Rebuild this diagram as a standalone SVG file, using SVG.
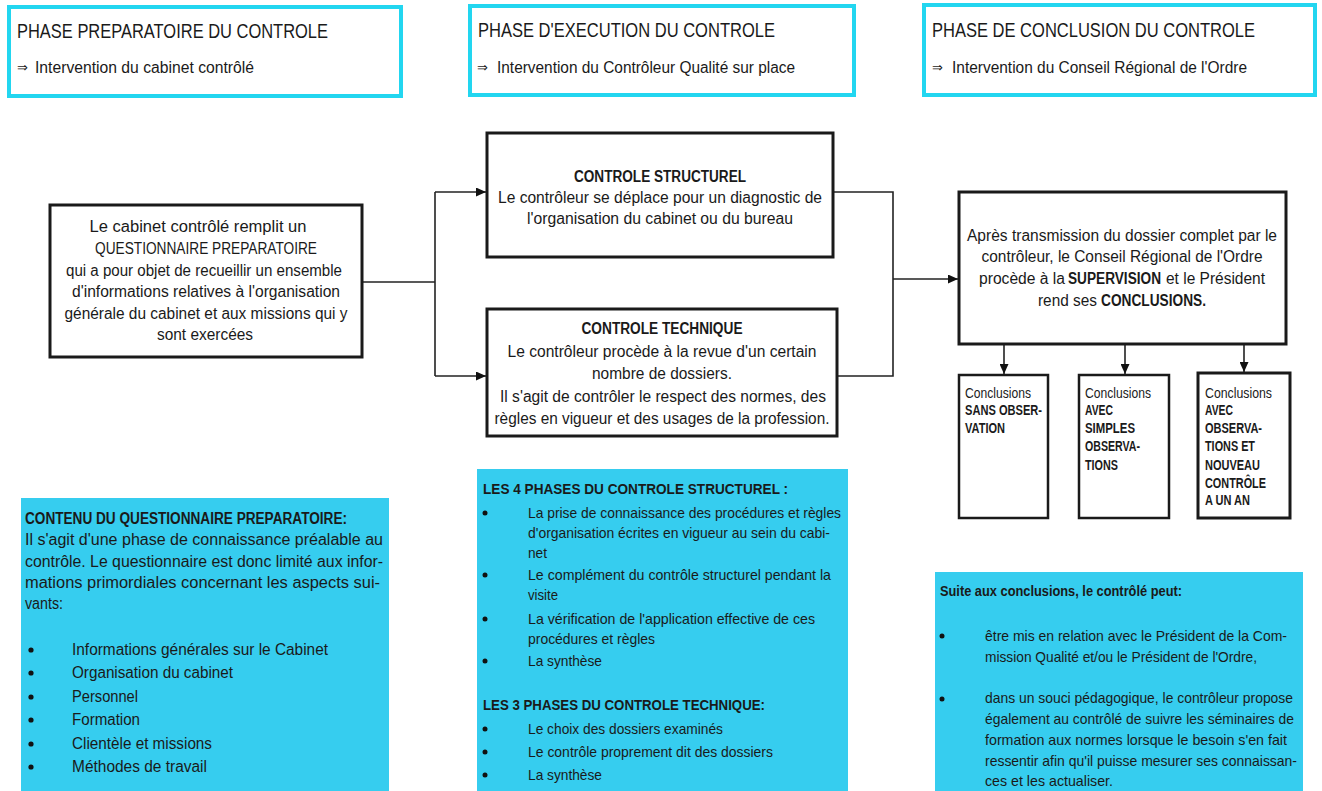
<svg xmlns="http://www.w3.org/2000/svg" width="1322" height="791" viewBox="0 0 1322 791">
<style>
text{font-family:"Liberation Sans",Arial,sans-serif;fill:#1a1a1a}
.t{font-size:20px}
.s{font-size:16px}
.n{font-size:16px;text-anchor:middle}
.l{font-size:16px}
.c{font-size:14px}
.p1{font-size:16px}
.p{font-size:15px}
.b{font-weight:bold}
.arr{font-family:"DejaVu Sans",sans-serif;font-size:13px}
.hb{fill:#fff;stroke:#22d6f0;stroke-width:4}
.box{fill:#fff;stroke:#1a1a1a;stroke-width:3}
.sb{fill:#fff;stroke:#1a1a1a;stroke-width:2.5}
.pan{fill:#36cdef}
.ln{fill:none;stroke:#222;stroke-width:1.6}
.dot{fill:#111}
</style>
<defs>
<marker id="ah" markerUnits="userSpaceOnUse" markerWidth="10" markerHeight="9" refX="10" refY="4.5" orient="auto">
<path d="M0,0 L10,4.5 L0,9 z" fill="#111"/>
</marker>
</defs>
<rect width="1322" height="791" fill="#fff"/>

<g id="phase1">
<rect class="hb" x="9" y="7" width="392" height="89"/>
<text class="t" x="17" y="38" textLength="311" lengthAdjust="spacingAndGlyphs">PHASE PREPARATOIRE DU CONTROLE</text>
<text class="arr" x="17" y="72">⇒</text>
<text class="s" x="35" y="73" textLength="219" lengthAdjust="spacingAndGlyphs">Intervention du cabinet contrôlé</text>
</g>
<g id="phase2">
<rect class="hb" x="470" y="6" width="384" height="89"/>
<text class="t" x="478" y="37" textLength="297" lengthAdjust="spacingAndGlyphs">PHASE D'EXECUTION DU CONTROLE</text>
<text class="arr" x="477" y="72">⇒</text>
<text class="s" x="497" y="73" textLength="298" lengthAdjust="spacingAndGlyphs">Intervention du Contrôleur Qualité sur place</text>
</g>
<g id="phase3">
<rect class="hb" x="924" y="5" width="391" height="90"/>
<text class="t" x="932" y="37" textLength="323" lengthAdjust="spacingAndGlyphs">PHASE DE CONCLUSION DU CONTROLE</text>
<text class="arr" x="932" y="72">⇒</text>
<text class="s" x="952" y="73" textLength="295" lengthAdjust="spacingAndGlyphs">Intervention du Conseil Régional de l'Ordre</text>
</g>

<g id="connectors">
<path class="ln" d="M362 282 H435"/>
<path class="ln" d="M435 192 V376"/>
<path class="ln" d="M435 192 H486" marker-end="url(#ah)"/>
<path class="ln" d="M435 376 H486" marker-end="url(#ah)"/>
<path class="ln" d="M833 192 H893 V376 H837"/>
<path class="ln" d="M893 279 H958" marker-end="url(#ah)"/>
<path class="ln" d="M1004 344 V374" marker-end="url(#ah)"/>
<path class="ln" d="M1125 344 V374" marker-end="url(#ah)"/>
<path class="ln" d="M1244 344 V372" marker-end="url(#ah)"/>
</g>

<g id="questionnaire">
<rect class="box" x="50" y="205" width="312" height="152"/>
<text class="n" x="198" y="232" textLength="217" lengthAdjust="spacingAndGlyphs">Le cabinet contrôlé remplit un</text>
<text class="n" x="206" y="254" textLength="222" lengthAdjust="spacingAndGlyphs">QUESTIONNAIRE PREPARATOIRE</text>
<text class="n" x="204" y="276" textLength="276" lengthAdjust="spacingAndGlyphs">qui a pour objet de recueillir un ensemble</text>
<text class="n" x="206" y="297" textLength="268" lengthAdjust="spacingAndGlyphs">d'informations relatives à l'organisation</text>
<text class="n" x="206" y="319" textLength="283" lengthAdjust="spacingAndGlyphs">générale du cabinet et aux missions qui y</text>
<text class="n" x="205" y="340" textLength="96" lengthAdjust="spacingAndGlyphs">sont exercées</text>
</g>

<g id="structurel">
<rect class="box" x="487" y="133" width="346" height="124"/>
<text class="n b" x="660" y="182" textLength="172" lengthAdjust="spacingAndGlyphs">CONTROLE STRUCTUREL</text>
<text class="n" x="660" y="203" textLength="324" lengthAdjust="spacingAndGlyphs">Le contrôleur se déplace pour un diagnostic de</text>
<text class="n" x="660" y="224" textLength="266" lengthAdjust="spacingAndGlyphs">l'organisation du cabinet ou du bureau</text>
</g>

<g id="technique">
<rect class="box" x="487" y="309" width="350" height="127"/>
<text class="n b" x="662" y="334" textLength="161" lengthAdjust="spacingAndGlyphs">CONTROLE TECHNIQUE</text>
<text class="n" x="662" y="357" textLength="309" lengthAdjust="spacingAndGlyphs">Le contrôleur procède à la revue d'un certain</text>
<text class="n" x="662" y="379" textLength="140" lengthAdjust="spacingAndGlyphs">nombre de dossiers.</text>
<text class="n" x="663" y="402" textLength="326" lengthAdjust="spacingAndGlyphs">Il s'agit de contrôler le respect des normes, des</text>
<text class="n" x="662" y="424" textLength="335" lengthAdjust="spacingAndGlyphs">règles en vigueur et des usages de la profession.</text>
</g>

<g id="supervision">
<rect class="box" x="959" y="192" width="327" height="152"/>
<text class="n" x="1122" y="241" textLength="310" lengthAdjust="spacingAndGlyphs">Après transmission du dossier complet par le</text>
<text class="n" x="1122" y="262" textLength="281" lengthAdjust="spacingAndGlyphs">contrôleur, le Conseil Régional de l'Ordre</text>
<text class="l" x="979" y="284" textLength="86" lengthAdjust="spacingAndGlyphs">procède à la</text>
<text class="l b" x="1068" y="284" textLength="93" lengthAdjust="spacingAndGlyphs">SUPERVISION</text>
<text class="l" x="1166" y="284" textLength="99" lengthAdjust="spacingAndGlyphs">et le Président</text>
<text class="l" x="1038" y="306" textLength="59" lengthAdjust="spacingAndGlyphs">rend ses</text>
<text class="l b" x="1101" y="306" textLength="105" lengthAdjust="spacingAndGlyphs">CONCLUSIONS.</text>
</g>

<g id="sans-observation">
<rect class="sb" x="959" y="375" width="89" height="143"/>
<text class="c" x="965" y="398" textLength="66" lengthAdjust="spacingAndGlyphs">Conclusions</text>
<text class="c b" x="965" y="415" textLength="77" lengthAdjust="spacingAndGlyphs">SANS OBSER-</text>
<text class="c b" x="965" y="433" textLength="40" lengthAdjust="spacingAndGlyphs">VATION</text>
</g>
<g id="simples-observations">
<rect class="sb" x="1079" y="375" width="90" height="143"/>
<text class="c" x="1085" y="398" textLength="66" lengthAdjust="spacingAndGlyphs">Conclusions</text>
<text class="c b" x="1085" y="415" textLength="28" lengthAdjust="spacingAndGlyphs">AVEC</text>
<text class="c b" x="1085" y="433" textLength="50" lengthAdjust="spacingAndGlyphs">SIMPLES</text>
<text class="c b" x="1085" y="451" textLength="55" lengthAdjust="spacingAndGlyphs">OBSERVA-</text>
<text class="c b" x="1085" y="470" textLength="33" lengthAdjust="spacingAndGlyphs">TIONS</text>
</g>
<g id="nouveau-controle">
<rect class="box" x="1198" y="373" width="92" height="145"/>
<text class="c" x="1205" y="398" textLength="67" lengthAdjust="spacingAndGlyphs">Conclusions</text>
<text class="c b" x="1205" y="415" textLength="28" lengthAdjust="spacingAndGlyphs">AVEC</text>
<text class="c b" x="1205" y="433" textLength="57" lengthAdjust="spacingAndGlyphs">OBSERVA-</text>
<text class="c b" x="1205" y="451" textLength="50" lengthAdjust="spacingAndGlyphs">TIONS ET</text>
<text class="c b" x="1205" y="470" textLength="55" lengthAdjust="spacingAndGlyphs">NOUVEAU</text>
<text class="c b" x="1205" y="488" textLength="61" lengthAdjust="spacingAndGlyphs">CONTRÔLE</text>
<text class="c b" x="1205" y="505" textLength="45" lengthAdjust="spacingAndGlyphs">A UN AN</text>
</g>

<g id="panel-questionnaire">
<rect class="pan" x="21" y="498" width="368" height="293"/>
<text class="p1 b" x="25" y="524" textLength="322" lengthAdjust="spacingAndGlyphs">CONTENU DU QUESTIONNAIRE PREPARATOIRE:</text>
<text class="p1" x="25" y="545" textLength="358" lengthAdjust="spacingAndGlyphs">Il s'agit d'une phase de connaissance préalable au</text>
<text class="p1" x="25" y="567" textLength="358" lengthAdjust="spacingAndGlyphs">contrôle. Le questionnaire est donc limité aux infor-</text>
<text class="p1" x="25" y="588" textLength="355" lengthAdjust="spacingAndGlyphs">mations primordiales concernant les aspects sui-</text>
<text class="p1" x="25" y="609" textLength="38" lengthAdjust="spacingAndGlyphs">vants:</text>
<circle class="dot" cx="31" cy="650" r="2.6"/>
<circle class="dot" cx="31" cy="673" r="2.6"/>
<circle class="dot" cx="31" cy="697" r="2.6"/>
<circle class="dot" cx="31" cy="720" r="2.6"/>
<circle class="dot" cx="31" cy="744" r="2.6"/>
<circle class="dot" cx="31" cy="767" r="2.6"/>
<text class="p1" x="72" y="655" textLength="256" lengthAdjust="spacingAndGlyphs">Informations générales sur le Cabinet</text>
<text class="p1" x="72" y="678" textLength="161" lengthAdjust="spacingAndGlyphs">Organisation du cabinet</text>
<text class="p1" x="72" y="702" textLength="66" lengthAdjust="spacingAndGlyphs">Personnel</text>
<text class="p1" x="72" y="725" textLength="68" lengthAdjust="spacingAndGlyphs">Formation</text>
<text class="p1" x="72" y="749" textLength="140" lengthAdjust="spacingAndGlyphs">Clientèle et missions</text>
<text class="p1" x="72" y="772" textLength="135" lengthAdjust="spacingAndGlyphs">Méthodes de travail</text>
</g>

<g id="panel-phases">
<rect class="pan" x="477" y="469" width="371" height="322"/>
<text class="p b" x="483" y="494" textLength="305" lengthAdjust="spacingAndGlyphs">LES 4 PHASES DU CONTROLE STRUCTUREL :</text>
<circle class="dot" cx="485" cy="513" r="2.5"/>
<circle class="dot" cx="485" cy="575" r="2.5"/>
<circle class="dot" cx="485" cy="619" r="2.5"/>
<circle class="dot" cx="485" cy="661" r="2.5"/>
<text class="p" x="528" y="518" textLength="313" lengthAdjust="spacingAndGlyphs">La prise de connaissance des procédures et règles</text>
<text class="p" x="528" y="538" textLength="302" lengthAdjust="spacingAndGlyphs">d'organisation écrites en vigueur au sein du cabi-</text>
<text class="p" x="528" y="558" textLength="19" lengthAdjust="spacingAndGlyphs">net</text>
<text class="p" x="528" y="580" textLength="303" lengthAdjust="spacingAndGlyphs">Le complément du contrôle structurel pendant la</text>
<text class="p" x="528" y="600" textLength="30" lengthAdjust="spacingAndGlyphs">visite</text>
<text class="p" x="528" y="624" textLength="287" lengthAdjust="spacingAndGlyphs">La vérification de l'application effective de ces</text>
<text class="p" x="528" y="644" textLength="127" lengthAdjust="spacingAndGlyphs">procédures et règles</text>
<text class="p" x="528" y="666" textLength="74" lengthAdjust="spacingAndGlyphs">La synthèse</text>
<text class="p b" x="483" y="710" textLength="282" lengthAdjust="spacingAndGlyphs">LES 3 PHASES DU CONTROLE TECHNIQUE:</text>
<circle class="dot" cx="485" cy="729" r="2.5"/>
<circle class="dot" cx="485" cy="752" r="2.5"/>
<circle class="dot" cx="485" cy="775" r="2.5"/>
<text class="p" x="528" y="734" textLength="195" lengthAdjust="spacingAndGlyphs">Le choix des dossiers examinés</text>
<text class="p" x="528" y="757" textLength="245" lengthAdjust="spacingAndGlyphs">Le contrôle proprement dit des dossiers</text>
<text class="p" x="528" y="780" textLength="74" lengthAdjust="spacingAndGlyphs">La synthèse</text>
</g>

<g id="panel-suite">
<rect class="pan" x="935" y="572" width="368" height="219"/>
<text class="p b" x="940" y="596" textLength="242" lengthAdjust="spacingAndGlyphs">Suite aux conclusions, le contrôlé peut:</text>
<circle class="dot" cx="942" cy="636" r="2.5"/>
<circle class="dot" cx="942" cy="699" r="2.5"/>
<text class="p" x="985" y="641" textLength="302" lengthAdjust="spacingAndGlyphs">être mis en relation avec le Président de la Com-</text>
<text class="p" x="985" y="662" textLength="272" lengthAdjust="spacingAndGlyphs">mission Qualité et/ou le Président de l'Ordre,</text>
<text class="p" x="985" y="703" textLength="308" lengthAdjust="spacingAndGlyphs">dans un souci pédagogique, le contrôleur propose</text>
<text class="p" x="985" y="724" textLength="309" lengthAdjust="spacingAndGlyphs">également au contrôlé de suivre les séminaires de</text>
<text class="p" x="985" y="745" textLength="302" lengthAdjust="spacingAndGlyphs">formation aux normes lorsque le besoin s'en fait</text>
<text class="p" x="985" y="766" textLength="312" lengthAdjust="spacingAndGlyphs">ressentir afin qu'il puisse mesurer ses connaissan-</text>
<text class="p" x="985" y="786" textLength="128" lengthAdjust="spacingAndGlyphs">ces et les actualiser.</text>
</g>
</svg>
